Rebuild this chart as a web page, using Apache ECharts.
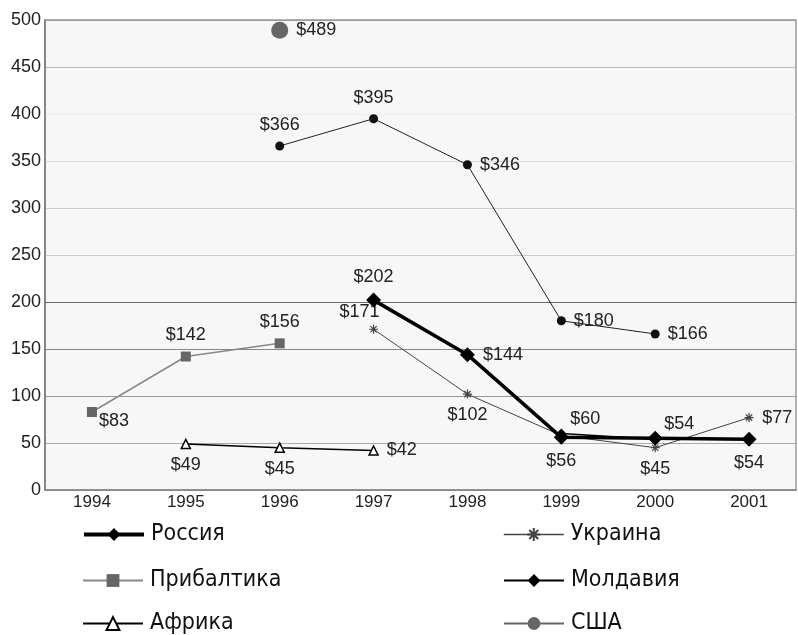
<!DOCTYPE html>
<html><head><meta charset="utf-8">
<script src="https://cdn.jsdelivr.net/npm/echarts@6/dist/echarts.min.js"></script>
<style>html,body{margin:0;padding:0;background:#fff}#c{width:798px;height:635px}</style>
</head><body><div id="c"></div>
<script>
var years = ['1994','1995','1996','1997','1998','1999','2000','2001'];
var yTicks = [0,50,100,150,200,250,300,350,400,450,500];
var russia   = [null,null,null,202,144,56,55,54];
var ukraine  = [null,null,null,171,102,58,45,77];
var baltics  = [83,142,156,null,null,null,null,null];
var moldova  = [null,null,null,null,null,60,54,null];
var africa   = [null,49,45,42,null,null,null,null];
var usa      = [null,null,489,null,null,null,null,null];
var other    = [null,null,366,395,346,180,166,null];

var russiaLbl  = [null,null,null,'top','right','bottom',null,'bottom'];
var ukraineLbl = [null,null,null,'topLeft','bottom',null,'bottom','right'];
var balticsLbl = ['bottomRight','top','top',null,null,null,null,null];
var moldovaLbl = [null,null,null,null,null,'topRight','topRight',null];
var africaLbl  = [null,'bottom','bottom','right',null,null,null,null];
var usaLbl     = [null,null,'right',null,null,null,null,null];
var otherLbl   = [null,null,'top','top','right','right','right',null];

var legendNames = ['Россия','Украина','Прибалтика','Молдавия','Африка','США'];

var FONT = '"Liberation Sans", Arial, sans-serif';
var NARROW = '"Liberation Sans Narrow", "DejaVu Sans Condensed", "Liberation Sans", Arial, sans-serif';
function mk(vals, lbls){
  return vals.map(function(v,i){
    if (v===null) return null;
    var p = lbls[i];
    var o = {value:v};
    if (!p){ o.label={show:false}; return o; }
    var lab = {show:true, formatter:'$'+v, fontSize:18, color:'#222', fontFamily:FONT};
    if (p==='topLeft'){ lab.position='top'; lab.offset=[-14,2]; }
    else if (p==='topRight'){ lab.position='top'; lab.offset=[24,4]; }
    else if (p==='bottomRight'){ lab.position='bottom'; lab.offset=[22,-10]; }
    else if (p==='right'){ lab.position='right'; lab.distance=8; }
    else { lab.position=p; lab.distance=7; }
    o.label = lab;
    return o;
  });
}
var star = 'path://M0,5L10,5M5,0L5,10M1.5,1.5L8.5,8.5M8.5,1.5L1.5,8.5';
var series = [
  {name:'Россия', data:mk(russia,russiaLbl), symbol:'diamond', symbolSize:15, lineStyle:{width:3.5,color:'#000'}, itemStyle:{color:'#000'}, z:5},
  {name:'Украина', data:mk(ukraine,ukraineLbl), symbol:star, symbolSize:9, lineStyle:{width:1,color:'#444'}, itemStyle:{color:'#444',borderColor:'#444',borderWidth:1.2}},
  {name:'Прибалтика', data:mk(baltics,balticsLbl), symbol:'rect', symbolSize:10, lineStyle:{width:1.5,color:'#888'}, itemStyle:{color:'#666'}},
  {name:'Молдавия', data:mk(moldova,moldovaLbl), symbol:'diamond', symbolSize:10, lineStyle:{width:1.5,color:'#000'}, itemStyle:{color:'#000'}},
  {name:'Африка', data:mk(africa,africaLbl), symbol:'triangle', symbolSize:9, lineStyle:{width:1.5,color:'#000'}, itemStyle:{color:'#fff',borderColor:'#000',borderWidth:1.5}},
  {name:'США', data:mk(usa,usaLbl), symbol:'circle', symbolSize:17, lineStyle:{width:1.5,color:'#666'}, itemStyle:{color:'#666'}},
  {name:'Другие', data:mk(other,otherLbl), symbol:'circle', symbolSize:9, lineStyle:{width:1,color:'#222'}, itemStyle:{color:'#111'}}
].map(function(s){
  s.type='line'; s.connectNulls=false; s.showAllSymbol=true; s.animation=false;
  s.emphasis={disabled:true};
  s.label = s.label || {show:false};
  return s;
});

var legPos = [[82,523],[503,523],[82,569],[503,569],[82,612],[503,612]];
var legLine = [4,1.5,2,2,2,2];
var legends = legendNames.map(function(n,i){
  return {left:legPos[i][0], top:legPos[i][1], data:[{name:n, lineStyle:{width:legLine[i]}}], itemWidth:60, itemHeight:16, padding:0,
    selectedMode:false,
    textStyle:{fontSize:23, color:'#111', fontFamily:NARROW, padding:[0,0,0,2]}};
});

var option = {
  backgroundColor:'#fff',
  animation:false,
  grid:{left:45, right:2, top:20, bottom:145, show:true, backgroundColor:'#f7f7f7', borderColor:'#999', borderWidth:1.5},
  legend:legends,
  xAxis:{type:'category', data:years, boundaryGap:true,
    axisLine:{lineStyle:{color:'#888',width:1.5}}, axisTick:{show:false},
    axisLabel:{fontSize:17, color:'#222', fontFamily:FONT, margin:4}},
  yAxis:{type:'value', min:yTicks[0], max:yTicks[yTicks.length-1], interval:50,
    axisLine:{show:true, lineStyle:{color:'#777',width:1.5}}, axisTick:{show:false},
    axisLabel:{fontSize:18, color:'#222', fontFamily:FONT, margin:4,
      formatter:function(v){return yTicks.indexOf(v)>=0?String(v):'';}},
    splitLine:{show:true, lineStyle:{width:1.2, color:['#888','#aaa','#999','#888','#666','#ccc','#ccc','#ddd','#eee','#bbb','#999']}}},
  series:series
};
var chart = echarts.init(document.getElementById('c'), null, {renderer:'canvas'});
chart.setOption(option);
</script></body></html>
